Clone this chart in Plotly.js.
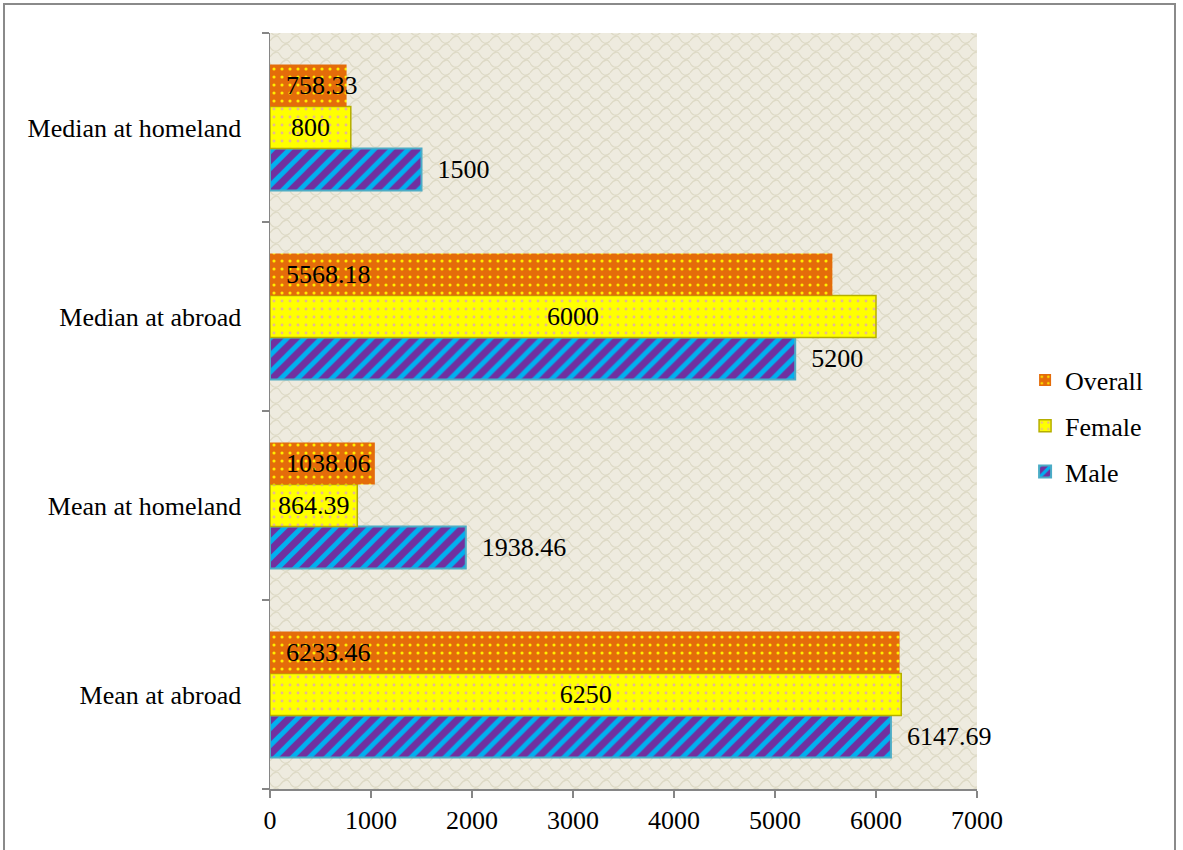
<!DOCTYPE html>
<html>
<head>
<meta charset="utf-8">
<script src="https://cdn.plot.ly/plotly-3.0.1.min.js"></script>
<style>
  html, body { margin: 0; padding: 0; background: #fff; }
  #wrap { position: relative; width: 1183px; height: 850px; overflow: hidden; }
  #chart { width: 1183px; height: 850px; }
  #frame { position: absolute; left: 3px; top: 3px; width: 1173px; height: 900px;
           border: 2px solid #8a8a8a; pointer-events: none; box-sizing: border-box; }
</style>
</head>
<body>
<div id="wrap">
  <div id="chart"></div>
  <div id="frame"></div>
</div>
<script>
// Data
const categories = ["Mean at abroad", "Mean at homeland", "Median at abroad", "Median at homeland"];
const maleValues = [6147.69, 1938.46, 5200, 1500];
const femaleValues = [6250, 864.39, 6000, 800];
const overallValues = [6233.46, 1038.06, 5568.18, 758.33];
const xTickValues = [0, 1000, 2000, 3000, 4000, 5000, 6000, 7000];

const NB = "\u00a0";
const fontFam = "'Liberation Serif', 'Times New Roman', serif";

const male = {
  type: "bar", orientation: "h", name: "Male", legendgroup: "m", legendrank: 3,
  y: categories, x: maleValues,
  text: maleValues.map(v => NB + NB + String(v)),
  textposition: "outside",
  textfont: { family: fontFam, size: 26, color: "#000" },
  marker: {
    color: "#7030A0",
    line: { color: "#4BACC6", width: 2 },
    pattern: { shape: "/", fgcolor: "#00B0F0", bgcolor: "#7030A0", size: 12, solidity: 0.4 }
  },
  cliponaxis: false, hoverinfo: "x+name"
};
const female = {
  type: "bar", orientation: "h", name: "Female", legendgroup: "f", legendrank: 2,
  y: categories, x: femaleValues,
  text: femaleValues.map(v => String(v)),
  textposition: "inside", insidetextanchor: "middle", constraintext: "none",
  textfont: { family: fontFam, size: 26, color: "#000" },
  marker: {
    color: "#FFFF00",
    line: { color: "#B5AE00", width: 1.5 },
    pattern: { shape: ".", fgcolor: "#E8B890", bgcolor: "#FFFF00", size: 8, solidity: 0.1 }
  },
  cliponaxis: false, hoverinfo: "x+name"
};
const overall = {
  type: "bar", orientation: "h", name: "Overall", legendgroup: "o", legendrank: 1,
  y: categories, x: overallValues,
  text: overallValues.map(v => NB + NB + String(v)),
  textposition: "inside", insidetextanchor: "start", constraintext: "none",
  textfont: { family: fontFam, size: 26, color: "#000" },
  marker: {
    color: "#E46C0A",
    line: { width: 0 },
    pattern: { shape: ".", fgcolor: "#FFEE00", bgcolor: "#E46C0A", size: 8, solidity: 0.12 }
  },
  cliponaxis: false, hoverinfo: "x+name"
};

const bgSvg = "<svg xmlns='http://www.w3.org/2000/svg' width='707' height='756'>" +
  "<defs><pattern id='p' width='20' height='16' patternUnits='userSpaceOnUse'>" +
  "<path d='M0 8 C4 2 8 2 10 6 C12 10 16 12 20 8 M-10 0 C-6 -6 -2 -6 0 -2 C2 2 6 4 10 0 C14 -6 18 -6 20 -2 M-10 16 C-6 10 -2 10 0 14 C2 18 6 20 10 16 C14 10 18 10 20 14' fill='none' stroke='#DEDAC6' stroke-width='1.3'/>" +
  "</pattern></defs><rect width='100%' height='100%' fill='#EEEBDF'/>" +
  "<rect width='100%' height='100%' fill='url(#p)'/></svg>";

const layout = {
  width: 1183, height: 850,
  margin: { l: 270, r: 206, t: 33, b: 61 },
  paper_bgcolor: "#ffffff",
  plot_bgcolor: "#EEEBDF",
  font: { family: fontFam, size: 26, color: "#000" },
  barmode: "group",
  bargap: 0.333, bargroupgap: 0,
  showlegend: true,
  legend: {
    x: 1.068, xanchor: "left", y: 0.48, yanchor: "middle",
    traceorder: "grouped", tracegroupgap: 9,
    font: { family: fontFam, size: 26, color: "#000" },
    bgcolor: "rgba(0,0,0,0)"
  },
  xaxis: {
    range: [0, 7000], tickvals: xTickValues, ticktext: xTickValues.map(String),
    showgrid: false, zeroline: false,
    showline: true, linecolor: "#868686", linewidth: 1.5,
    ticks: "outside", ticklen: 7, tickcolor: "#868686", tickwidth: 1.5,
    tickfont: { family: fontFam, size: 26, color: "#000" },
    fixedrange: true
  },
  yaxis: {
    type: "category", categoryorder: "array", categoryarray: categories,
    showgrid: false, zeroline: false,
    showline: true, linecolor: "#868686", linewidth: 1.5,
    ticks: "outside", ticklen: 7, tickcolor: "#868686", tickwidth: 1.5,
    tickson: "boundaries", ticklabelstandoff: 22,
    tickfont: { family: fontFam, size: 26, color: "#000" },
    fixedrange: true
  },
  images: [{
    source: "data:image/svg+xml;charset=utf-8," + encodeURIComponent(bgSvg),
    xref: "paper", yref: "paper", x: 0, y: 1, sizex: 1, sizey: 1,
    xanchor: "left", yanchor: "top", sizing: "stretch", layer: "below"
  }]
};

Plotly.newPlot("chart", [male, female, overall], layout, { displayModeBar: false, staticPlot: true });
</script>
</body>
</html>
